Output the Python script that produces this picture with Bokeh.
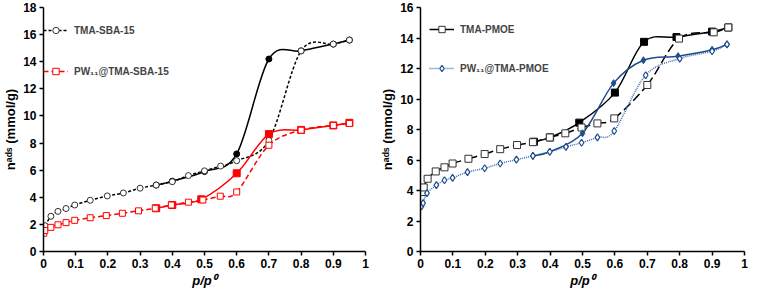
from bokeh.plotting import figure
from bokeh.layouts import row
from bokeh.models import (Legend, LegendItem, FixedTicker, NumeralTickFormatter,
                          ColumnDataSource, Range1d)
from bokeh.embed import file_html
from bokeh.resources import INLINE

# ---------------- data ----------------
sba_ads_p = [0.005, 0.023, 0.045, 0.07, 0.097, 0.145, 0.198, 0.248, 0.3, 0.35, 0.4,
             0.45, 0.5, 0.55, 0.6, 0.7, 0.8, 0.9, 0.95]
sba_ads_n = [1.9, 2.6, 2.96, 3.17, 3.43, 3.78, 4.1, 4.32, 4.67, 4.9, 5.15,
             5.6, 5.95, 6.3, 6.7, 8.2, 14.8, 15.3, 15.6]
sba_des_p = [0.95, 0.9, 0.8, 0.7, 0.6, 0.5, 0.4, 0.35]
sba_des_n = [15.6, 15.3, 14.8, 14.2, 7.2, 5.9, 5.19, 4.9]

pwsba_ads_p = [0.001, 0.004, 0.023, 0.045, 0.07, 0.097, 0.145, 0.195, 0.245, 0.295,
               0.347, 0.397, 0.45, 0.495, 0.549, 0.6, 0.7, 0.8, 0.9, 0.95]
pwsba_ads_n = [1.35, 1.55, 1.78, 1.97, 2.13, 2.3, 2.49, 2.65, 2.82, 3.0,
               3.19, 3.43, 3.64, 3.8, 4.08, 4.39, 7.84, 8.95, 9.3, 9.45]
pwsba_des_p = [0.95, 0.9, 0.8, 0.7, 0.6, 0.49, 0.4, 0.35]
pwsba_des_n = [9.49, 9.3, 8.97, 8.66, 5.77, 3.85, 3.43, 3.19]

pmoe_ads_p = [0.005, 0.01, 0.022, 0.047, 0.074, 0.099, 0.148, 0.198, 0.246, 0.298,
              0.347, 0.399, 0.447, 0.497, 0.546, 0.598, 0.7, 0.798, 0.905, 0.95]
pmoe_ads_n = [3.9, 4.2, 4.77, 5.25, 5.52, 5.77, 6.08, 6.39, 6.71, 6.98,
              7.17, 7.48, 7.75, 8.13, 8.4, 8.73, 10.92, 13.96, 14.37, 14.69]
pmoe_des_p = [0.95, 0.9, 0.79, 0.69, 0.6, 0.49, 0.4, 0.35]
pmoe_des_n = [14.69, 14.42, 14.06, 13.75, 10.42, 8.45, 7.48, 7.2]

pwpmoe_ads_p = [0.003, 0.008, 0.02, 0.049, 0.074, 0.099, 0.145, 0.198, 0.246, 0.296,
                0.347, 0.399, 0.449, 0.497, 0.546, 0.598, 0.695, 0.8, 0.9, 0.946]
pwpmoe_ads_n = [2.96, 3.17, 3.83, 4.35, 4.67, 4.83, 5.2, 5.46, 5.77, 6.02,
                6.27, 6.54, 6.86, 7.13, 7.48, 7.9, 11.56, 12.65, 13.13, 13.58]
pwpmoe_des_p = [0.946, 0.9, 0.795, 0.688, 0.596, 0.5, 0.399, 0.347]
pwpmoe_des_n = [13.58, 13.23, 12.81, 12.54, 11.04, 7.75, 6.54, 6.27]

x_ticks = [0, 0.1, 0.2, 0.3, 0.4, 0.5, 0.6, 0.7, 0.8, 0.9, 1.0]
left_y_ticks = [0, 2, 4, 6, 8, 10, 12, 14, 16, 18]
right_y_ticks = [0, 2, 4, 6, 8, 10, 12, 14, 16]

FONT = "Liberation Sans"


def bezier_source(xs, ys):
    """Smoothed-line control points (Excel style) for Bokeh's bezier glyph."""
    n = len(xs)
    d = dict(x0=[], y0=[], x1=[], y1=[], cx0=[], cy0=[], cx1=[], cy1=[])
    for i in range(n - 1):
        i0 = max(i - 1, 0)
        i3 = min(i + 2, n - 1)
        d["x0"].append(xs[i]); d["y0"].append(ys[i])
        d["x1"].append(xs[i + 1]); d["y1"].append(ys[i + 1])
        d["cx0"].append(xs[i] + (xs[i + 1] - xs[i0]) / 6.0)
        d["cy0"].append(ys[i] + (ys[i + 1] - ys[i0]) / 6.0)
        d["cx1"].append(xs[i + 1] - (xs[i3] - xs[i]) / 6.0)
        d["cy1"].append(ys[i + 1] - (ys[i3] - ys[i]) / 6.0)
    return ColumnDataSource(d)


def make_fig(width, bl, br, ymax, yticks):
    p = figure(width=width, height=290, x_range=Range1d(0, 1), y_range=Range1d(0, ymax),
               output_backend="svg", toolbar_location=None,
               min_border_left=bl, min_border_right=br, min_border_top=7,
               min_border_bottom=36, outline_line_color=None)
    p.grid.visible = False
    p.xaxis.ticker = FixedTicker(ticks=x_ticks)
    p.xaxis.formatter = NumeralTickFormatter(format="0.[0]")
    p.yaxis.ticker = FixedTicker(ticks=yticks)
    for ax in (p.xaxis[0], p.yaxis[0]):
        ax.axis_line_width = 1.5
        ax.axis_line_color = "black"
        ax.major_tick_line_width = 1.5
        ax.major_tick_line_color = "black"
        ax.major_tick_out = 4
        ax.major_tick_in = 0
        ax.minor_tick_line_color = None
        ax.major_label_text_font = FONT
        ax.major_label_text_font_style = "bold"
        ax.major_label_text_font_size = "12px"
        ax.major_label_text_color = "black"
        ax.major_label_standoff = 3
        ax.axis_label_text_font = FONT
        ax.axis_label_text_font_size = "13px"
        ax.axis_label_text_color = "black"
        ax.axis_label_standoff = 2
    p.xaxis.axis_label = "p/p⁰"
    p.xaxis.axis_label_text_font_style = "bold italic"
    p.yaxis.axis_label = "nᵃᵈˢ (mmol/g)"
    p.yaxis.axis_label_text_font_style = "bold"
    return p


def curve(p, xs, ys, **kw):
    return p.bezier("x0", "y0", "x1", "y1", "cx0", "cy0", "cx1", "cy1",
                    source=bezier_source(xs, ys), line_width=1.5, **kw)


# ---------------- left panel ----------------
left = make_fig(377, 40, 12, 18, left_y_ticks)

r_sba_ads = curve(left, sba_ads_p, sba_ads_n, line_color="black", line_dash="3 2")
r_sba_des = curve(left, sba_des_p, sba_des_n, line_color="black")
r_pw_ads = curve(left, pwsba_ads_p, pwsba_ads_n, line_color="#FF0000", line_dash="5 3")
r_pw_des = curve(left, pwsba_des_p, pwsba_des_n, line_color="#FF0000")
m_sba_des = left.scatter(sba_des_p, sba_des_n, marker="circle", size=6,
                         fill_color="black", line_color="black")
m_sba_ads = left.scatter(sba_ads_p, sba_ads_n, marker="circle", size=6,
                         fill_color="white", line_color="#333333", line_width=1)
m_pw_des = left.scatter(pwsba_des_p, pwsba_des_n, marker="square", size=7,
                        fill_color="#FF0000", line_color="#FF0000")
m_pw_ads = left.scatter(pwsba_ads_p, pwsba_ads_n, marker="square", size=6,
                        fill_color="white", line_color="#FF0000", line_width=1)

lgL = Legend(items=[
    LegendItem(label="TMA-SBA-15", renderers=[r_sba_ads, m_sba_ads]),
    LegendItem(label="PW₁₁@TMA-SBA-15", renderers=[r_pw_ads, m_pw_ads]),
], location=(0, 172))

# ---------------- right panel ----------------
right = make_fig(372, 42, 5, 16, right_y_ticks)

BLUE = "#1F4E8C"
BLUE_DOT = "#3A6DB5"
r_pm_ads = curve(right, pmoe_ads_p, pmoe_ads_n, line_color="black", line_dash="9 4")
r_pm_des = curve(right, pmoe_des_p, pmoe_des_n, line_color="black")
r_pwp_ads = curve(right, pwpmoe_ads_p, pwpmoe_ads_n, line_color=BLUE_DOT, line_dash="1 1")
r_pwp_des = curve(right, pwpmoe_des_p, pwpmoe_des_n, line_color=BLUE)
m_pm_des = right.scatter(pmoe_des_p, pmoe_des_n, marker="square", size=7,
                         fill_color="black", line_color="black")
m_pm_ads = right.scatter(pmoe_ads_p, pmoe_ads_n, marker="square", size=7,
                         fill_color="white", line_color="#333333", line_width=1)
m_pwp_des = right.scatter(pwpmoe_des_p, pwpmoe_des_n, marker="diamond", size=7,
                          fill_color=BLUE, line_color=BLUE)
m_pwp_ads = right.scatter(pwpmoe_ads_p, pwpmoe_ads_n, marker="diamond", size=7,
                          fill_color="white", line_color=BLUE, line_width=1.2)

lgR = Legend(items=[
    LegendItem(label="TMA-PMOE", renderers=[r_pm_des, m_pm_ads]),
    LegendItem(label="PW₁₁@TMA-PMOE", renderers=[r_pwp_ads, m_pwp_ads]),
], location=(9, 175))

for lg, sp in ((lgL, 25), (lgR, 23)):
    lg.border_line_color = None
    lg.background_fill_alpha = 0
    lg.label_text_font = FONT
    lg.label_text_font_style = "bold"
    lg.label_text_font_size = "10px"
    lg.glyph_width = 25
    lg.glyph_height = 16
    lg.label_height = 16
    lg.label_standoff = 6
    lg.spacing = sp
    lg.margin = 0
    lg.padding = 0

left.add_layout(lgL)
right.add_layout(lgR)

layout = row(left, right)
open("out.html", "w").write(file_html(layout, INLINE))
